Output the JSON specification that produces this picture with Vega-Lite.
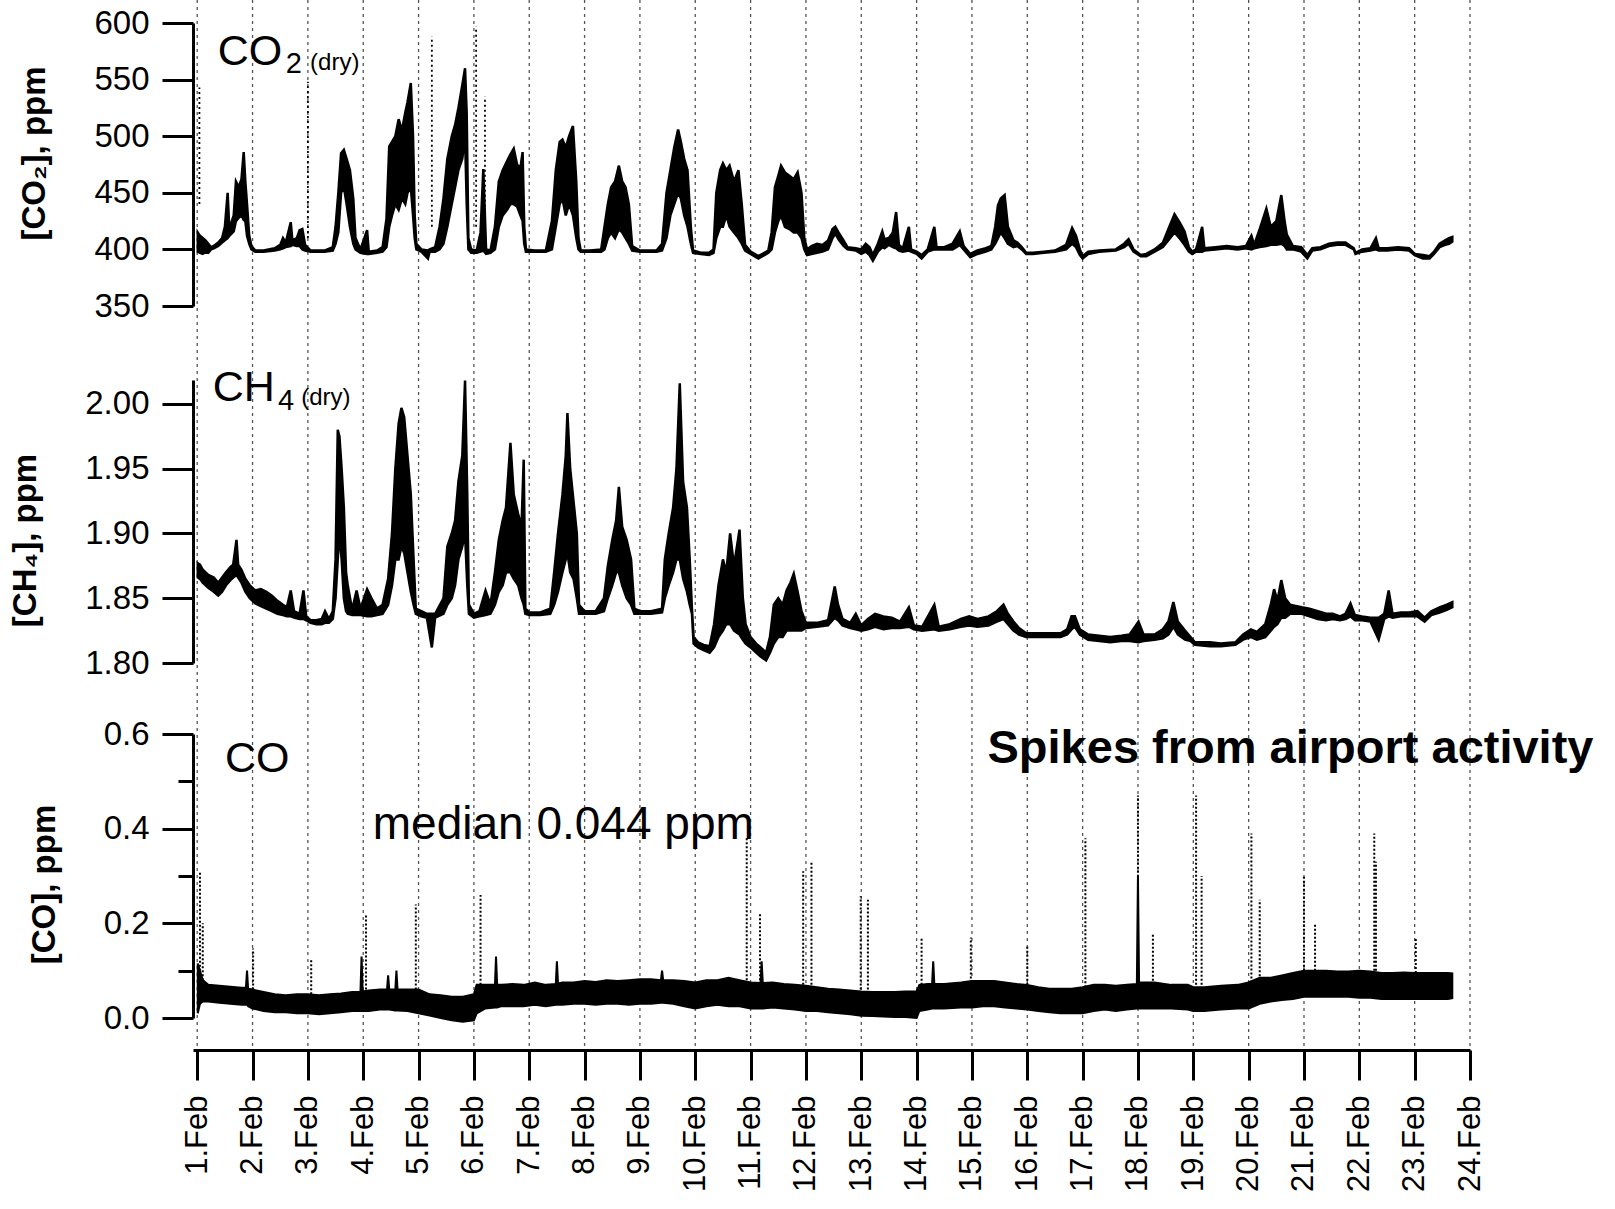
{
"$schema": "https://vega.github.io/schema/vega-lite/v6.json",
"width": 1277, "height": 1050,
"autosize": {"type": "none"},
"padding": {"left": 193, "top": 0, "right": 145, "bottom": 159},
"background": "white",
"config": {
  "font": "Liberation Sans",
  "view": {"stroke": null},
  "axis": {"domainColor": "black", "tickColor": "black", "labelColor": "black", "titleColor": "black", "domainWidth": 3, "tickWidth": 3, "labelFont": "Liberation Sans", "titleFont": "Liberation Sans", "labelFlush": false, "labelOverlap": false, "labelBound": false, "grid": false},
  "axisY": {"labelFontSize": 33, "labelPadding": 13, "titleFontSize": 33, "titleFontWeight": "bold", "titlePadding": 42},
  "axisX": {"labelFontSize": 31, "labelAngle": 270, "labelPadding": 15},
  "text": {"color": "black", "font": "Liberation Sans", "align": "left", "baseline": "alphabetic"}
},
"datasets": {
  "grid": [{"g":1},{"g":2},{"g":3},{"g":4},{"g":5},{"g":6},{"g":7},{"g":8},{"g":9},{"g":10},{"g":11},{"g":12},{"g":13},{"g":14},{"g":15},{"g":16},{"g":17},{"g":18},{"g":19},{"g":20},{"g":21},{"g":22},{"g":23},{"g":24}],
  "co2": [
    {"d":1.01,"lo":398,"hi":415},{"d":1.05,"lo":397,"hi":412},{"d":1.1,"lo":396,"hi":410},{"d":1.15,"lo":398,"hi":408},{"d":1.2,"lo":397,"hi":405},{"d":1.25,"lo":400,"hi":402},{"d":1.3,"lo":401,"hi":403},{"d":1.38,"lo":403,"hi":406},{"d":1.45,"lo":406,"hi":410},{"d":1.5,"lo":408,"hi":420},{"d":1.55,"lo":410,"hi":450},{"d":1.58,"lo":412,"hi":418},{"d":1.62,"lo":414,"hi":424},{"d":1.66,"lo":416,"hi":430},{"d":1.7,"lo":425,"hi":460},{"d":1.75,"lo":428,"hi":455},{"d":1.8,"lo":430,"hi":462},{"d":1.84,"lo":426,"hi":486},{"d":1.87,"lo":425,"hi":460},{"d":1.9,"lo":412,"hi":440},{"d":1.94,"lo":405,"hi":412},{"d":1.98,"lo":400,"hi":403},
    {"d":2.05,"lo":398,"hi":399},{"d":2.2,"lo":398,"hi":399},{"d":2.4,"lo":399,"hi":401},{"d":2.5,"lo":400,"hi":404},{"d":2.55,"lo":401,"hi":410},{"d":2.6,"lo":402,"hi":406},{"d":2.69,"lo":403,"hi":424},{"d":2.72,"lo":404,"hi":408},{"d":2.8,"lo":403,"hi":410},{"d":2.85,"lo":403,"hi":417},{"d":2.9,"lo":400,"hi":418},{"d":2.95,"lo":399,"hi":404},
    {"d":3.05,"lo":398,"hi":399},{"d":3.3,"lo":398,"hi":399},{"d":3.45,"lo":399,"hi":402},{"d":3.5,"lo":405,"hi":420},{"d":3.55,"lo":415,"hi":450},{"d":3.6,"lo":450,"hi":485},{"d":3.65,"lo":455,"hi":488},{"d":3.7,"lo":440,"hi":480},{"d":3.76,"lo":420,"hi":470},{"d":3.82,"lo":405,"hi":445},{"d":3.86,"lo":400,"hi":410},{"d":3.95,"lo":397,"hi":400},
    {"d":4.07,"lo":396,"hi":417},{"d":4.1,"lo":396,"hi":398},{"d":4.25,"lo":397,"hi":399},{"d":4.35,"lo":398,"hi":402},{"d":4.42,"lo":402,"hi":427},{"d":4.47,"lo":420,"hi":491},{"d":4.52,"lo":430,"hi":495},{"d":4.58,"lo":440,"hi":500},{"d":4.64,"lo":435,"hi":515},{"d":4.7,"lo":445,"hi":505},{"d":4.76,"lo":440,"hi":521},{"d":4.8,"lo":450,"hi":530},{"d":4.86,"lo":455,"hi":547},{"d":4.9,"lo":430,"hi":500},{"d":4.93,"lo":410,"hi":430},{"d":4.96,"lo":400,"hi":405},
    {"d":5.05,"lo":398,"hi":400},{"d":5.17,"lo":392,"hi":399},{"d":5.2,"lo":398,"hi":400},{"d":5.3,"lo":398,"hi":402},{"d":5.38,"lo":400,"hi":420},{"d":5.45,"lo":405,"hi":445},{"d":5.52,"lo":420,"hi":480},{"d":5.6,"lo":440,"hi":500},{"d":5.66,"lo":455,"hi":510},{"d":5.72,"lo":470,"hi":525},{"d":5.79,"lo":480,"hi":545},{"d":5.84,"lo":500,"hi":560},{"d":5.87,"lo":440,"hi":520},{"d":5.9,"lo":400,"hi":410},{"d":5.95,"lo":397,"hi":400},
    {"d":6.05,"lo":397,"hi":399},{"d":6.12,"lo":398,"hi":415},{"d":6.17,"lo":399,"hi":471},{"d":6.22,"lo":396,"hi":400},{"d":6.3,"lo":397,"hi":399},{"d":6.38,"lo":400,"hi":420},{"d":6.45,"lo":420,"hi":460},{"d":6.52,"lo":430,"hi":470},{"d":6.6,"lo":435,"hi":478},{"d":6.66,"lo":440,"hi":484},{"d":6.72,"lo":440,"hi":489},{"d":6.78,"lo":438,"hi":475},{"d":6.84,"lo":430,"hi":472},{"d":6.88,"lo":425,"hi":486},{"d":6.91,"lo":405,"hi":420},{"d":6.94,"lo":398,"hi":400},
    {"d":7.1,"lo":398,"hi":399},{"d":7.3,"lo":398,"hi":399},{"d":7.41,"lo":400,"hi":425},{"d":7.48,"lo":420,"hi":470},{"d":7.55,"lo":440,"hi":495},{"d":7.6,"lo":445,"hi":497},{"d":7.66,"lo":430,"hi":490},{"d":7.72,"lo":440,"hi":500},{"d":7.79,"lo":430,"hi":509},{"d":7.85,"lo":410,"hi":460},{"d":7.89,"lo":400,"hi":410},{"d":7.93,"lo":398,"hi":399},
    {"d":8.1,"lo":398,"hi":399},{"d":8.3,"lo":398,"hi":400},{"d":8.36,"lo":400,"hi":420},{"d":8.42,"lo":410,"hi":440},{"d":8.48,"lo":415,"hi":455},{"d":8.55,"lo":410,"hi":460},{"d":8.62,"lo":418,"hi":474},{"d":8.68,"lo":415,"hi":460},{"d":8.74,"lo":410,"hi":455},{"d":8.8,"lo":405,"hi":440},{"d":8.86,"lo":399,"hi":403},
    {"d":9.0,"lo":398,"hi":399},{"d":9.3,"lo":398,"hi":399},{"d":9.4,"lo":399,"hi":405},{"d":9.48,"lo":410,"hi":450},{"d":9.55,"lo":430,"hi":470},{"d":9.62,"lo":440,"hi":490},{"d":9.69,"lo":450,"hi":506},{"d":9.74,"lo":445,"hi":495},{"d":9.8,"lo":430,"hi":480},{"d":9.86,"lo":420,"hi":470},{"d":9.92,"lo":405,"hi":420},{"d":9.96,"lo":397,"hi":399},
    {"d":10.1,"lo":396,"hi":397},{"d":10.25,"lo":395,"hi":397},{"d":10.33,"lo":397,"hi":400},{"d":10.38,"lo":410,"hi":450},{"d":10.45,"lo":420,"hi":470},{"d":10.5,"lo":420,"hi":476},{"d":10.56,"lo":430,"hi":470},{"d":10.62,"lo":420,"hi":474},{"d":10.7,"lo":415,"hi":460},{"d":10.78,"lo":410,"hi":470},{"d":10.84,"lo":405,"hi":440},{"d":10.9,"lo":399,"hi":404},
    {"d":11.0,"lo":396,"hi":398},{"d":11.14,"lo":392,"hi":394},{"d":11.25,"lo":395,"hi":397},{"d":11.32,"lo":397,"hi":399},{"d":11.38,"lo":400,"hi":415},{"d":11.44,"lo":415,"hi":455},{"d":11.5,"lo":425,"hi":465},{"d":11.55,"lo":430,"hi":474},{"d":11.62,"lo":420,"hi":468},{"d":11.7,"lo":418,"hi":465},{"d":11.78,"lo":415,"hi":462},{"d":11.85,"lo":415,"hi":468},{"d":11.92,"lo":410,"hi":450},{"d":11.97,"lo":400,"hi":410},
    {"d":12.02,"lo":395,"hi":400},{"d":12.1,"lo":396,"hi":403},{"d":12.2,"lo":397,"hi":405},{"d":12.3,"lo":398,"hi":404},{"d":12.4,"lo":400,"hi":408},{"d":12.48,"lo":410,"hi":418},{"d":12.53,"lo":414,"hi":420},{"d":12.6,"lo":408,"hi":414},{"d":12.68,"lo":403,"hi":408},{"d":12.75,"lo":400,"hi":402},{"d":12.9,"lo":399,"hi":401},
    {"d":13.0,"lo":396,"hi":400},{"d":13.08,"lo":398,"hi":405},{"d":13.15,"lo":395,"hi":402},{"d":13.21,"lo":390,"hi":395},{"d":13.3,"lo":398,"hi":405},{"d":13.38,"lo":402,"hi":416},{"d":13.42,"lo":401,"hi":409},{"d":13.5,"lo":404,"hi":410},{"d":13.57,"lo":402,"hi":415},{"d":13.63,"lo":401,"hi":433},{"d":13.68,"lo":399,"hi":404},{"d":13.75,"lo":398,"hi":401},{"d":13.86,"lo":399,"hi":420},{"d":13.9,"lo":398,"hi":400},
    {"d":14.0,"lo":396,"hi":398},{"d":14.09,"lo":392,"hi":395},{"d":14.2,"lo":398,"hi":400},{"d":14.32,"lo":400,"hi":420},{"d":14.36,"lo":400,"hi":402},{"d":14.5,"lo":400,"hi":402},{"d":14.65,"lo":400,"hi":405},{"d":14.78,"lo":404,"hi":416},{"d":14.85,"lo":400,"hi":403},{"d":14.97,"lo":393,"hi":396},
    {"d":15.1,"lo":396,"hi":399},{"d":15.25,"lo":398,"hi":401},{"d":15.35,"lo":400,"hi":403},{"d":15.42,"lo":405,"hi":420},{"d":15.47,"lo":410,"hi":439},{"d":15.52,"lo":415,"hi":445},{"d":15.59,"lo":410,"hi":448},{"d":15.65,"lo":405,"hi":420},{"d":15.75,"lo":402,"hi":408},{"d":15.82,"lo":403,"hi":406},{"d":15.9,"lo":400,"hi":402},{"d":15.98,"lo":396,"hi":397},
    {"d":16.1,"lo":396,"hi":397},{"d":16.3,"lo":397,"hi":398},{"d":16.5,"lo":398,"hi":399},{"d":16.7,"lo":400,"hi":404},{"d":16.81,"lo":405,"hi":419},{"d":16.88,"lo":402,"hi":412},{"d":16.95,"lo":395,"hi":400},
    {"d":17.0,"lo":392,"hi":394},{"d":17.1,"lo":396,"hi":398},{"d":17.3,"lo":398,"hi":399},{"d":17.6,"lo":399,"hi":400},{"d":17.75,"lo":402,"hi":405},{"d":17.83,"lo":405,"hi":409},{"d":17.92,"lo":398,"hi":400},
    {"d":18.05,"lo":394,"hi":395},{"d":18.15,"lo":394,"hi":396},{"d":18.3,"lo":398,"hi":400},{"d":18.45,"lo":402,"hi":406},{"d":18.55,"lo":408,"hi":418},{"d":18.66,"lo":415,"hi":431},{"d":18.75,"lo":410,"hi":424},{"d":18.84,"lo":404,"hi":416},{"d":18.92,"lo":398,"hi":402},{"d":18.98,"lo":396,"hi":398},
    {"d":19.05,"lo":398,"hi":400},{"d":19.16,"lo":398,"hi":420},{"d":19.2,"lo":399,"hi":401},{"d":19.4,"lo":400,"hi":402},{"d":19.6,"lo":401,"hi":403},{"d":19.8,"lo":400,"hi":402},{"d":19.95,"lo":401,"hi":403},
    {"d":20.05,"lo":400,"hi":412},{"d":20.1,"lo":401,"hi":404},{"d":20.2,"lo":402,"hi":418},{"d":20.32,"lo":403,"hi":436},{"d":20.4,"lo":404,"hi":420},{"d":20.5,"lo":404,"hi":425},{"d":20.59,"lo":405,"hi":448},{"d":20.65,"lo":403,"hi":425},{"d":20.69,"lo":400,"hi":413},{"d":20.8,"lo":400,"hi":403},{"d":20.95,"lo":398,"hi":402},
    {"d":21.06,"lo":392,"hi":395},{"d":21.15,"lo":399,"hi":401},{"d":21.3,"lo":400,"hi":402},{"d":21.45,"lo":403,"hi":405},{"d":21.6,"lo":404,"hi":406},{"d":21.75,"lo":404,"hi":406},{"d":21.9,"lo":400,"hi":401},{"d":21.93,"lo":396,"hi":397},
    {"d":22.05,"lo":398,"hi":400},{"d":22.2,"lo":399,"hi":401},{"d":22.3,"lo":400,"hi":410},{"d":22.35,"lo":399,"hi":401},{"d":22.5,"lo":399,"hi":401},{"d":22.7,"lo":400,"hi":402},{"d":22.9,"lo":399,"hi":401},
    {"d":23.0,"lo":395,"hi":396},{"d":23.15,"lo":392,"hi":395},{"d":23.27,"lo":392,"hi":394},{"d":23.35,"lo":396,"hi":398},{"d":23.45,"lo":402,"hi":405},{"d":23.55,"lo":404,"hi":408},{"d":23.62,"lo":405,"hi":410},{"d":23.68,"lo":407,"hi":411}
  ],
  "co2s": [
    {"d":1.04,"lo":440,"hi":543},{"d":3.0,"lo":410,"hi":548},{"d":5.24,"lo":420,"hi":588},{"d":6.04,"lo":420,"hi":597},{"d":6.2,"lo":420,"hi":535}
  ],
  "ch4": [
    {"d":1.01,"lo":1.866,"hi":1.877},{"d":1.05,"lo":1.865,"hi":1.876},{"d":1.1,"lo":1.862,"hi":1.872},{"d":1.2,"lo":1.858,"hi":1.868},{"d":1.3,"lo":1.855,"hi":1.866},{"d":1.38,"lo":1.852,"hi":1.862},{"d":1.45,"lo":1.855,"hi":1.866},{"d":1.52,"lo":1.86,"hi":1.87},{"d":1.6,"lo":1.864,"hi":1.874},{"d":1.65,"lo":1.866,"hi":1.876},{"d":1.71,"lo":1.868,"hi":1.895},{"d":1.74,"lo":1.866,"hi":1.876},{"d":1.8,"lo":1.862,"hi":1.872},{"d":1.87,"lo":1.855,"hi":1.865},{"d":1.95,"lo":1.85,"hi":1.86},
    {"d":2.05,"lo":1.846,"hi":1.856},{"d":2.15,"lo":1.844,"hi":1.857},{"d":2.25,"lo":1.842,"hi":1.855},{"d":2.35,"lo":1.84,"hi":1.852},{"d":2.45,"lo":1.838,"hi":1.848},{"d":2.55,"lo":1.837,"hi":1.845},{"d":2.62,"lo":1.836,"hi":1.843},{"d":2.69,"lo":1.836,"hi":1.856},{"d":2.75,"lo":1.835,"hi":1.84},{"d":2.85,"lo":1.834,"hi":1.838},{"d":2.92,"lo":1.834,"hi":1.856},{"d":2.97,"lo":1.833,"hi":1.836},
    {"d":3.05,"lo":1.831,"hi":1.833},{"d":3.15,"lo":1.83,"hi":1.833},{"d":3.25,"lo":1.83,"hi":1.834},{"d":3.31,"lo":1.831,"hi":1.84},{"d":3.38,"lo":1.831,"hi":1.834},{"d":3.45,"lo":1.834,"hi":1.84},{"d":3.5,"lo":1.85,"hi":1.88},{"d":3.54,"lo":1.88,"hi":1.98},{"d":3.57,"lo":1.9,"hi":1.975},{"d":3.61,"lo":1.88,"hi":1.95},{"d":3.65,"lo":1.85,"hi":1.92},{"d":3.69,"lo":1.84,"hi":1.87},{"d":3.72,"lo":1.838,"hi":1.86},{"d":3.8,"lo":1.837,"hi":1.841},{"d":3.88,"lo":1.837,"hi":1.856},{"d":3.95,"lo":1.837,"hi":1.842},
    {"d":4.07,"lo":1.836,"hi":1.857},{"d":4.15,"lo":1.836,"hi":1.85},{"d":4.25,"lo":1.837,"hi":1.842},{"d":4.35,"lo":1.838,"hi":1.845},{"d":4.45,"lo":1.845,"hi":1.865},{"d":4.52,"lo":1.86,"hi":1.9},{"d":4.58,"lo":1.88,"hi":1.95},{"d":4.64,"lo":1.88,"hi":1.985},{"d":4.69,"lo":1.89,"hi":1.997},{"d":4.74,"lo":1.885,"hi":1.99},{"d":4.8,"lo":1.87,"hi":1.96},{"d":4.86,"lo":1.855,"hi":1.93},{"d":4.91,"lo":1.845,"hi":1.88},{"d":4.95,"lo":1.838,"hi":1.842},
    {"d":5.05,"lo":1.836,"hi":1.84},{"d":5.15,"lo":1.835,"hi":1.838},{"d":5.24,"lo":1.812,"hi":1.838},{"d":5.3,"lo":1.835,"hi":1.838},{"d":5.45,"lo":1.838,"hi":1.85},{"d":5.52,"lo":1.845,"hi":1.89},{"d":5.6,"lo":1.85,"hi":1.9},{"d":5.66,"lo":1.86,"hi":1.91},{"d":5.72,"lo":1.88,"hi":1.94},{"d":5.79,"lo":1.89,"hi":1.96},{"d":5.84,"lo":1.9,"hi":2.018},{"d":5.88,"lo":1.86,"hi":1.93},{"d":5.91,"lo":1.838,"hi":1.845},
    {"d":6.0,"lo":1.835,"hi":1.838},{"d":6.1,"lo":1.836,"hi":1.84},{"d":6.21,"lo":1.837,"hi":1.856},{"d":6.3,"lo":1.838,"hi":1.845},{"d":6.38,"lo":1.845,"hi":1.87},{"d":6.45,"lo":1.855,"hi":1.895},{"d":6.52,"lo":1.86,"hi":1.91},{"d":6.58,"lo":1.87,"hi":1.92},{"d":6.66,"lo":1.87,"hi":1.97},{"d":6.72,"lo":1.865,"hi":1.93},{"d":6.8,"lo":1.86,"hi":1.915},{"d":6.86,"lo":1.85,"hi":1.905},{"d":6.9,"lo":1.845,"hi":1.957},{"d":6.93,"lo":1.838,"hi":1.842},
    {"d":7.0,"lo":1.837,"hi":1.839},{"d":7.2,"lo":1.837,"hi":1.839},{"d":7.38,"lo":1.838,"hi":1.842},{"d":7.45,"lo":1.845,"hi":1.87},{"d":7.52,"lo":1.855,"hi":1.9},{"d":7.6,"lo":1.87,"hi":1.93},{"d":7.66,"lo":1.88,"hi":1.96},{"d":7.69,"lo":1.885,"hi":1.993},{"d":7.74,"lo":1.87,"hi":1.95},{"d":7.8,"lo":1.865,"hi":1.925},{"d":7.86,"lo":1.85,"hi":1.9},{"d":7.9,"lo":1.838,"hi":1.845},
    {"d":8.0,"lo":1.838,"hi":1.84},{"d":8.2,"lo":1.838,"hi":1.84},{"d":8.35,"lo":1.84,"hi":1.85},{"d":8.42,"lo":1.85,"hi":1.875},{"d":8.5,"lo":1.86,"hi":1.895},{"d":8.57,"lo":1.87,"hi":1.91},{"d":8.62,"lo":1.87,"hi":1.936},{"d":8.68,"lo":1.86,"hi":1.905},{"d":8.76,"lo":1.85,"hi":1.895},{"d":8.84,"lo":1.845,"hi":1.88},{"d":8.9,"lo":1.838,"hi":1.842},
    {"d":9.0,"lo":1.838,"hi":1.84},{"d":9.2,"lo":1.838,"hi":1.84},{"d":9.4,"lo":1.839,"hi":1.842},{"d":9.45,"lo":1.85,"hi":1.88},{"d":9.52,"lo":1.86,"hi":1.9},{"d":9.6,"lo":1.87,"hi":1.92},{"d":9.66,"lo":1.88,"hi":1.95},{"d":9.72,"lo":1.88,"hi":2.016},{"d":9.78,"lo":1.865,"hi":1.94},{"d":9.85,"lo":1.855,"hi":1.92},{"d":9.9,"lo":1.845,"hi":1.88},{"d":9.94,"lo":1.838,"hi":1.842},{"d":9.97,"lo":1.815,"hi":1.82},
    {"d":10.05,"lo":1.812,"hi":1.816},{"d":10.15,"lo":1.81,"hi":1.814},{"d":10.26,"lo":1.808,"hi":1.813},{"d":10.34,"lo":1.812,"hi":1.83},{"d":10.42,"lo":1.82,"hi":1.86},{"d":10.5,"lo":1.825,"hi":1.88},{"d":10.56,"lo":1.83,"hi":1.87},{"d":10.63,"lo":1.83,"hi":1.9},{"d":10.7,"lo":1.825,"hi":1.875},{"d":10.8,"lo":1.822,"hi":1.903},{"d":10.86,"lo":1.818,"hi":1.85},{"d":10.91,"lo":1.815,"hi":1.83},
    {"d":11.0,"lo":1.812,"hi":1.82},{"d":11.1,"lo":1.808,"hi":1.815},{"d":11.18,"lo":1.805,"hi":1.812},{"d":11.28,"lo":1.802,"hi":1.808},{"d":11.35,"lo":1.808,"hi":1.82},{"d":11.42,"lo":1.815,"hi":1.845},{"d":11.5,"lo":1.82,"hi":1.85},{"d":11.58,"lo":1.82,"hi":1.845},{"d":11.65,"lo":1.825,"hi":1.856},{"d":11.72,"lo":1.825,"hi":1.862},{"d":11.78,"lo":1.825,"hi":1.869},{"d":11.85,"lo":1.825,"hi":1.855},{"d":11.92,"lo":1.825,"hi":1.84},
    {"d":12.0,"lo":1.827,"hi":1.831},{"d":12.2,"lo":1.828,"hi":1.831},{"d":12.4,"lo":1.829,"hi":1.833},{"d":12.52,"lo":1.835,"hi":1.859},{"d":12.58,"lo":1.833,"hi":1.845},{"d":12.66,"lo":1.829,"hi":1.834},{"d":12.8,"lo":1.827,"hi":1.831},{"d":12.9,"lo":1.826,"hi":1.838},
    {"d":13.0,"lo":1.825,"hi":1.829},{"d":13.12,"lo":1.826,"hi":1.834},{"d":13.25,"lo":1.828,"hi":1.838},{"d":13.4,"lo":1.826,"hi":1.836},{"d":13.55,"lo":1.827,"hi":1.835},{"d":13.7,"lo":1.827,"hi":1.832},{"d":13.86,"lo":1.828,"hi":1.843},{"d":13.95,"lo":1.826,"hi":1.829},
    {"d":14.1,"lo":1.825,"hi":1.828},{"d":14.32,"lo":1.826,"hi":1.845},{"d":14.4,"lo":1.825,"hi":1.828},{"d":14.6,"lo":1.826,"hi":1.83},{"d":14.8,"lo":1.828,"hi":1.834},{"d":14.95,"lo":1.829,"hi":1.836},
    {"d":15.1,"lo":1.828,"hi":1.834},{"d":15.3,"lo":1.829,"hi":1.836},{"d":15.45,"lo":1.832,"hi":1.84},{"d":15.57,"lo":1.834,"hi":1.845},{"d":15.65,"lo":1.83,"hi":1.838},{"d":15.75,"lo":1.825,"hi":1.832},{"d":15.85,"lo":1.822,"hi":1.827},{"d":15.98,"lo":1.82,"hi":1.823},
    {"d":16.2,"lo":1.82,"hi":1.823},{"d":16.4,"lo":1.82,"hi":1.823},{"d":16.6,"lo":1.82,"hi":1.823},{"d":16.72,"lo":1.822,"hi":1.826},{"d":16.8,"lo":1.826,"hi":1.836},{"d":16.86,"lo":1.828,"hi":1.836},{"d":16.95,"lo":1.822,"hi":1.826},
    {"d":17.1,"lo":1.818,"hi":1.822},{"d":17.3,"lo":1.817,"hi":1.821},{"d":17.5,"lo":1.816,"hi":1.82},{"d":17.7,"lo":1.817,"hi":1.821},{"d":17.85,"lo":1.817,"hi":1.822},
    {"d":18.01,"lo":1.816,"hi":1.832},{"d":18.1,"lo":1.817,"hi":1.822},{"d":18.3,"lo":1.818,"hi":1.822},{"d":18.45,"lo":1.819,"hi":1.826},{"d":18.55,"lo":1.822,"hi":1.832},{"d":18.64,"lo":1.828,"hi":1.847},{"d":18.72,"lo":1.822,"hi":1.832},{"d":18.85,"lo":1.818,"hi":1.825},{"d":18.95,"lo":1.817,"hi":1.82},
    {"d":19.03,"lo":1.814,"hi":1.816},{"d":19.3,"lo":1.813,"hi":1.816},{"d":19.5,"lo":1.813,"hi":1.815},{"d":19.76,"lo":1.814,"hi":1.816},{"d":19.9,"lo":1.818,"hi":1.822},
    {"d":20.04,"lo":1.82,"hi":1.826},{"d":20.15,"lo":1.818,"hi":1.824},{"d":20.3,"lo":1.82,"hi":1.83},{"d":20.4,"lo":1.825,"hi":1.845},{"d":20.46,"lo":1.828,"hi":1.857},{"d":20.52,"lo":1.83,"hi":1.848},{"d":20.59,"lo":1.835,"hi":1.864},{"d":20.66,"lo":1.835,"hi":1.85},{"d":20.75,"lo":1.838,"hi":1.845},{"d":20.85,"lo":1.838,"hi":1.844},{"d":20.96,"lo":1.838,"hi":1.843},
    {"d":21.1,"lo":1.836,"hi":1.842},{"d":21.25,"lo":1.834,"hi":1.84},{"d":21.4,"lo":1.833,"hi":1.838},{"d":21.52,"lo":1.834,"hi":1.838},{"d":21.65,"lo":1.833,"hi":1.836},{"d":21.75,"lo":1.834,"hi":1.838},{"d":21.84,"lo":1.836,"hi":1.846},{"d":21.92,"lo":1.833,"hi":1.837},
    {"d":22.05,"lo":1.833,"hi":1.836},{"d":22.2,"lo":1.832,"hi":1.835},{"d":22.35,"lo":1.818,"hi":1.835},{"d":22.45,"lo":1.834,"hi":1.838},{"d":22.53,"lo":1.836,"hi":1.856},{"d":22.6,"lo":1.835,"hi":1.838},{"d":22.75,"lo":1.836,"hi":1.839},{"d":22.9,"lo":1.836,"hi":1.839},
    {"d":23.05,"lo":1.836,"hi":1.84},{"d":23.18,"lo":1.832,"hi":1.835},{"d":23.3,"lo":1.837,"hi":1.84},{"d":23.45,"lo":1.839,"hi":1.843},{"d":23.58,"lo":1.841,"hi":1.845},{"d":23.68,"lo":1.843,"hi":1.847}
  ],
  "co": [
    {"d":1.01,"lo":0.01,"hi":0.115},{"d":1.05,"lo":0.03,"hi":0.1},{"d":1.1,"lo":0.035,"hi":0.08},{"d":1.2,"lo":0.035,"hi":0.07},{"d":1.4,"lo":0.032,"hi":0.068},{"d":1.6,"lo":0.03,"hi":0.066},{"d":1.8,"lo":0.028,"hi":0.064},{"d":1.88,"lo":0.028,"hi":0.064},{"d":1.9,"lo":0.028,"hi":0.1},{"d":1.92,"lo":0.025,"hi":0.062},
    {"d":2.0,"lo":0.02,"hi":0.06},{"d":2.2,"lo":0.015,"hi":0.055},{"d":2.4,"lo":0.012,"hi":0.05},{"d":2.6,"lo":0.012,"hi":0.048},{"d":2.8,"lo":0.01,"hi":0.05},
    {"d":3.0,"lo":0.01,"hi":0.05},{"d":3.2,"lo":0.008,"hi":0.048},{"d":3.4,"lo":0.01,"hi":0.05},{"d":3.6,"lo":0.012,"hi":0.052},{"d":3.8,"lo":0.015,"hi":0.055},{"d":3.95,"lo":0.015,"hi":0.055},{"d":3.97,"lo":0.015,"hi":0.13},{"d":3.99,"lo":0.015,"hi":0.056},
    {"d":4.1,"lo":0.015,"hi":0.058},{"d":4.3,"lo":0.018,"hi":0.06},{"d":4.43,"lo":0.018,"hi":0.06},{"d":4.45,"lo":0.018,"hi":0.09},{"d":4.47,"lo":0.018,"hi":0.06},{"d":4.58,"lo":0.016,"hi":0.06},{"d":4.6,"lo":0.016,"hi":0.1},{"d":4.62,"lo":0.016,"hi":0.06},{"d":4.8,"lo":0.015,"hi":0.06},
    {"d":5.0,"lo":0.01,"hi":0.06},{"d":5.2,"lo":0.005,"hi":0.05},{"d":5.4,"lo":0.0,"hi":0.048},{"d":5.6,"lo":-0.005,"hi":0.045},{"d":5.8,"lo":-0.008,"hi":0.045},
    {"d":6.0,"lo":-0.005,"hi":0.05},{"d":6.05,"lo":0.01,"hi":0.07},{"d":6.2,"lo":0.02,"hi":0.07},{"d":6.38,"lo":0.022,"hi":0.07},{"d":6.4,"lo":0.022,"hi":0.13},{"d":6.42,"lo":0.022,"hi":0.07},{"d":6.5,"lo":0.025,"hi":0.07},{"d":6.7,"lo":0.025,"hi":0.072},{"d":6.9,"lo":0.025,"hi":0.07},
    {"d":7.1,"lo":0.028,"hi":0.075},{"d":7.3,"lo":0.025,"hi":0.07},{"d":7.48,"lo":0.028,"hi":0.072},{"d":7.5,"lo":0.028,"hi":0.12},{"d":7.52,"lo":0.028,"hi":0.073},{"d":7.6,"lo":0.028,"hi":0.075},{"d":7.8,"lo":0.03,"hi":0.075},
    {"d":8.0,"lo":0.03,"hi":0.078},{"d":8.2,"lo":0.028,"hi":0.076},{"d":8.4,"lo":0.03,"hi":0.08},{"d":8.6,"lo":0.03,"hi":0.078},{"d":8.8,"lo":0.028,"hi":0.08},
    {"d":9.0,"lo":0.03,"hi":0.082},{"d":9.2,"lo":0.03,"hi":0.082},{"d":9.38,"lo":0.032,"hi":0.08},{"d":9.4,"lo":0.032,"hi":0.1},{"d":9.42,"lo":0.032,"hi":0.08},{"d":9.6,"lo":0.03,"hi":0.08},{"d":9.8,"lo":0.025,"hi":0.078},
    {"d":10.0,"lo":0.02,"hi":0.075},{"d":10.2,"lo":0.025,"hi":0.08},{"d":10.4,"lo":0.028,"hi":0.08},{"d":10.6,"lo":0.025,"hi":0.085},{"d":10.8,"lo":0.025,"hi":0.08},
    {"d":11.0,"lo":0.02,"hi":0.075},{"d":11.18,"lo":0.02,"hi":0.074},{"d":11.2,"lo":0.02,"hi":0.12},{"d":11.22,"lo":0.02,"hi":0.074},{"d":11.4,"lo":0.022,"hi":0.075},{"d":11.6,"lo":0.02,"hi":0.072},{"d":11.8,"lo":0.018,"hi":0.07},
    {"d":12.0,"lo":0.015,"hi":0.068},{"d":12.2,"lo":0.015,"hi":0.065},{"d":12.4,"lo":0.012,"hi":0.062},{"d":12.6,"lo":0.01,"hi":0.06},{"d":12.8,"lo":0.008,"hi":0.058},
    {"d":13.0,"lo":0.005,"hi":0.056},{"d":13.2,"lo":0.004,"hi":0.055},{"d":13.4,"lo":0.003,"hi":0.055},{"d":13.6,"lo":0.002,"hi":0.055},{"d":13.8,"lo":0.002,"hi":0.056},
    {"d":14.0,"lo":0.0,"hi":0.056},{"d":14.05,"lo":0.015,"hi":0.07},{"d":14.2,"lo":0.018,"hi":0.072},{"d":14.28,"lo":0.02,"hi":0.072},{"d":14.3,"lo":0.02,"hi":0.12},{"d":14.32,"lo":0.02,"hi":0.072},{"d":14.5,"lo":0.02,"hi":0.072},{"d":14.8,"lo":0.022,"hi":0.075},
    {"d":15.0,"lo":0.022,"hi":0.078},{"d":15.2,"lo":0.025,"hi":0.078},{"d":15.4,"lo":0.025,"hi":0.078},{"d":15.6,"lo":0.022,"hi":0.075},{"d":15.8,"lo":0.02,"hi":0.072},
    {"d":16.0,"lo":0.018,"hi":0.07},{"d":16.2,"lo":0.015,"hi":0.065},{"d":16.4,"lo":0.012,"hi":0.062},{"d":16.6,"lo":0.01,"hi":0.062},{"d":16.8,"lo":0.01,"hi":0.062},
    {"d":17.0,"lo":0.01,"hi":0.065},{"d":17.2,"lo":0.015,"hi":0.07},{"d":17.4,"lo":0.018,"hi":0.07},{"d":17.6,"lo":0.015,"hi":0.068},{"d":17.8,"lo":0.018,"hi":0.07},
    {"d":17.98,"lo":0.02,"hi":0.072},{"d":18.0,"lo":0.02,"hi":0.3},{"d":18.02,"lo":0.02,"hi":0.075},{"d":18.3,"lo":0.02,"hi":0.075},{"d":18.6,"lo":0.02,"hi":0.07},{"d":18.9,"lo":0.018,"hi":0.07},
    {"d":19.0,"lo":0.015,"hi":0.065},{"d":19.2,"lo":0.015,"hi":0.065},{"d":19.5,"lo":0.018,"hi":0.068},{"d":19.8,"lo":0.02,"hi":0.07},
    {"d":20.0,"lo":0.02,"hi":0.075},{"d":20.2,"lo":0.03,"hi":0.085},{"d":20.4,"lo":0.035,"hi":0.085},{"d":20.6,"lo":0.038,"hi":0.09},{"d":20.8,"lo":0.04,"hi":0.095},
    {"d":21.0,"lo":0.045,"hi":0.1},{"d":21.2,"lo":0.045,"hi":0.1},{"d":21.4,"lo":0.045,"hi":0.1},{"d":21.6,"lo":0.045,"hi":0.098},{"d":21.8,"lo":0.045,"hi":0.098},
    {"d":22.0,"lo":0.043,"hi":0.1},{"d":22.2,"lo":0.043,"hi":0.098},{"d":22.4,"lo":0.04,"hi":0.095},{"d":22.6,"lo":0.04,"hi":0.095},{"d":22.8,"lo":0.04,"hi":0.096},
    {"d":23.0,"lo":0.04,"hi":0.095},{"d":23.2,"lo":0.04,"hi":0.095},{"d":23.4,"lo":0.04,"hi":0.095},{"d":23.6,"lo":0.04,"hi":0.095},{"d":23.68,"lo":0.042,"hi":0.094}
  ],
  "cos": [
    {"d":1.05,"lo":0.1,"hi":0.31},{"d":1.1,"lo":0.08,"hi":0.2},{"d":2.01,"lo":0.06,"hi":0.147},{"d":3.06,"lo":0.05,"hi":0.122},{"d":4.05,"lo":0.06,"hi":0.22},{"d":4.95,"lo":0.06,"hi":0.24},{"d":6.12,"lo":0.07,"hi":0.26},{"d":10.93,"lo":0.08,"hi":0.38},{"d":11.17,"lo":0.08,"hi":0.22},{"d":11.95,"lo":0.07,"hi":0.31},{"d":12.1,"lo":0.07,"hi":0.33},{"d":12.99,"lo":0.06,"hi":0.257},{"d":13.12,"lo":0.06,"hi":0.25},{"d":14.09,"lo":0.07,"hi":0.17},{"d":14.98,"lo":0.075,"hi":0.17},{"d":16.0,"lo":0.07,"hi":0.155},{"d":17.05,"lo":0.065,"hi":0.38},{"d":18.0,"lo":0.07,"hi":0.47},{"d":18.27,"lo":0.07,"hi":0.18},{"d":19.05,"lo":0.07,"hi":0.47},{"d":19.15,"lo":0.07,"hi":0.3},{"d":20.05,"lo":0.075,"hi":0.39},{"d":20.2,"lo":0.08,"hi":0.25},{"d":21.0,"lo":0.1,"hi":0.3},{"d":21.2,"lo":0.1,"hi":0.2},{"d":22.27,"lo":0.1,"hi":0.39},{"d":22.3,"lo":0.1,"hi":0.33},{"d":23.02,"lo":0.095,"hi":0.17}
  ]
},
"layer": [
  {"data": {"name": "grid"}, "mark": {"type": "rule", "color": "#555555", "strokeWidth": 1.3, "strokeDash": [3, 4]},
   "encoding": {"x": {"field": "g", "type": "quantitative", "scale": {"domain": [0.924, 24], "nice": false, "zero": false},
                      "axis": {"values": [1,2,3,4,5,6,7,8,9,10,11,12,13,14,15,16,17,18,19,20,21,22,23,24], "labelExpr": "datum.value + '.Feb'", "title": null, "tickSize": 30}}}},
  {"layer": [
    {"data": {"name": "co2"}, "mark": {"type": "area", "color": "black", "stroke": "black", "strokeWidth": 2.5},
     "encoding": {"x": {"field": "d", "type": "quantitative", "scale": {"domain": [0.924, 24], "nice": false, "zero": false}},
                  "y": {"field": "lo", "type": "quantitative", "scale": {"domain": [350, 600], "range": [306, 23], "nice": false, "zero": false},
                        "axis": {"orient": "left", "values": [350,400,450,500,550,600], "title": "[CO₂], ppm", "titleY": 153, "tickSize": 31}},
                  "y2": {"field": "hi"}}},
    {"data": {"name": "co2s"}, "mark": {"type": "rule", "color": "black", "strokeWidth": 1.8, "strokeDash": [2, 3]},
     "encoding": {"x": {"field": "d", "type": "quantitative", "scale": {"domain": [0.924, 24], "nice": false, "zero": false}},
                  "y": {"field": "lo", "type": "quantitative"}, "y2": {"field": "hi"}}},
    {"data": {"values": [{"label": "CO"}]}, "mark": {"type": "text", "fontSize": 43},
     "encoding": {"text": {"field": "label"}, "x": {"datum": 1.37, "type": "quantitative"}, "y": {"datum": 562.9, "type": "quantitative"}}},
    {"data": {"values": [{"label": "2"}]}, "mark": {"type": "text", "fontSize": 29},
     "encoding": {"text": {"field": "label"}, "x": {"datum": 2.6, "type": "quantitative"}, "y": {"datum": 555.8, "type": "quantitative"}}},
    {"data": {"values": [{"label": "(dry)"}]}, "mark": {"type": "text", "fontSize": 24},
     "encoding": {"text": {"field": "label"}, "x": {"datum": 3.04, "type": "quantitative"}, "y": {"datum": 558.5, "type": "quantitative"}}}
  ]},
  {"layer": [
    {"data": {"name": "ch4"}, "mark": {"type": "area", "color": "black", "stroke": "black", "strokeWidth": 2.5},
     "encoding": {"x": {"field": "d", "type": "quantitative", "scale": {"domain": [0.924, 24], "nice": false, "zero": false}},
                  "y": {"field": "lo", "type": "quantitative", "scale": {"domain": [1.8, 2.0185], "range": [663, 380], "nice": false, "zero": false},
                        "axis": {"orient": "left", "values": [1.8,1.85,1.9,1.95,2.0], "format": ".2f", "title": "[CH₄], ppm", "titleY": 540, "tickSize": 31}},
                  "y2": {"field": "hi"}}},
    {"data": {"values": [{"label": "CH"}]}, "mark": {"type": "text", "fontSize": 43},
     "encoding": {"text": {"field": "label"}, "x": {"datum": 1.28, "type": "quantitative"}, "y": {"datum": 2.0023, "type": "quantitative"}}},
    {"data": {"values": [{"label": "4"}]}, "mark": {"type": "text", "fontSize": 29},
     "encoding": {"text": {"field": "label"}, "x": {"datum": 2.46, "type": "quantitative"}, "y": {"datum": 1.9954, "type": "quantitative"}}},
    {"data": {"values": [{"label": "(dry)"}]}, "mark": {"type": "text", "fontSize": 24},
     "encoding": {"text": {"field": "label"}, "x": {"datum": 2.88, "type": "quantitative"}, "y": {"datum": 1.9992, "type": "quantitative"}}}
  ]},
  {"layer": [
    {"data": {"name": "co"}, "mark": {"type": "area", "color": "black", "stroke": "black", "strokeWidth": 2},
     "encoding": {"x": {"field": "d", "type": "quantitative", "scale": {"domain": [0.924, 24], "nice": false, "zero": false}},
                  "y": {"field": "lo", "type": "quantitative", "scale": {"domain": [0, 0.6], "range": [1018, 734], "nice": false, "zero": false},
                        "axis": {"orient": "left", "values": [0,0.2,0.4,0.6], "format": ".1f", "title": "[CO], ppm", "titleY": 884, "tickSize": 31}},
                  "y2": {"field": "hi"}}},
    {"data": {"values": [{"label": "CO"}]}, "mark": {"type": "text", "fontSize": 43},
     "encoding": {"text": {"field": "label"}, "x": {"datum": 1.5, "type": "quantitative"}, "y": {"datum": 0.52, "type": "quantitative"}}},
    {"data": {"values": [{"label": "median 0.044 ppm"}]}, "mark": {"type": "text", "fontSize": 46, "align": "center"},
     "encoding": {"text": {"field": "label"}, "x": {"datum": 7.615, "type": "quantitative"}, "y": {"datum": 0.378, "type": "quantitative"}}},
    {"data": {"values": [{"label": "Spikes from airport activity"}]}, "mark": {"type": "text", "fontSize": 47, "fontWeight": "bold", "align": "center"},
     "encoding": {"text": {"field": "label"}, "x": {"datum": 20.756, "type": "quantitative"}, "y": {"datum": 0.5387, "type": "quantitative"}}}
  ]},
  {"data": {"name": "cos"}, "mark": {"type": "rule", "color": "black", "strokeWidth": 2, "strokeDash": [2, 2]},
   "encoding": {"x": {"field": "d", "type": "quantitative", "scale": {"domain": [0.924, 24], "nice": false, "zero": false}},
                "y": {"field": "lo", "type": "quantitative", "scale": {"domain": [0, 0.6], "range": [1018, 734], "nice": false, "zero": false},
                      "axis": {"orient": "left", "values": [0.1,0.3,0.5], "labels": false, "domain": false, "title": null, "ticks": true, "tickSize": 15}},
                "y2": {"field": "hi"}}}
],
"resolve": {"scale": {"y": "independent"}, "axis": {"y": "independent"}}
}
